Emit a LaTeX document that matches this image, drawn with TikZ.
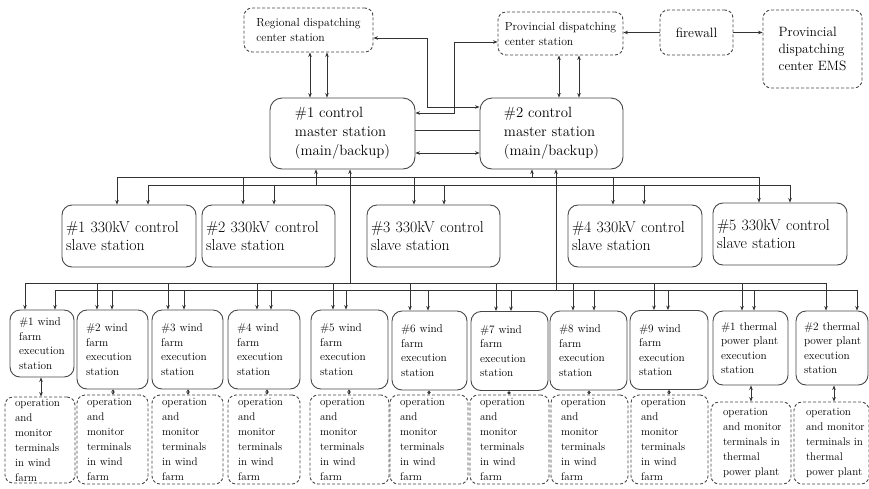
\documentclass[tikz,border=0pt]{standalone}
\usetikzlibrary{arrows.meta,calc}
\begin{document}
\hyphenpenalty=10000
\exhyphenpenalty=10000
\begin{tikzpicture}[x=1pt,y=-1pt,
  line/.style={draw=black!80, line width=0.85pt},
  tip/.style={line, -{Stealth[length=4.5pt,width=3.6pt]}},
  tips/.style={line, {Stealth[length=4.5pt,width=3.6pt]}-{Stealth[length=4.5pt,width=3.6pt]}},
  stub/.style={line, {Stealth[length=2.6pt,width=3.4pt]}-{Stealth[length=2.6pt,width=3.4pt]}},
  solidbox/.style={draw=black!72, line width=0.9pt, rounded corners=10pt, align=left, inner ysep=0pt},
  dashbox/.style={solidbox, dash pattern=on 3pt off 2pt, rounded corners=8pt},
  smalltop/.style={font=\fontsize{11.7}{15}\selectfont},
  bigtop/.style={font=\fontsize{13.5}{16.7}\selectfont},
  masterbox/.style={solidbox, rounded corners=12pt, font=\fontsize{14.8}{19}\selectfont},
  slavebox/.style={solidbox, inner xsep=4pt, minimum height=62pt, font=\fontsize{15.8}{18.5}\selectfont},
  exbox/.style={solidbox, inner xsep=9pt, font=\fontsize{11.3}{14.5}\selectfont},
  termbox/.style={dashbox, inner xsep=10pt, font=\fontsize{11.1}{15}\selectfont},
]
\useasboundingbox (0,0) rectangle (869,488);

% dispatching level
\node[dashbox, smalltop, minimum width=129pt, minimum height=44pt] (reg) at (308.5,30) {Regional dispatching\\center station};
\node[dashbox, smalltop, minimum width=125pt, minimum height=43pt] (prov) at (560.5,33.5) {Provincial dispatching\\center station};
\node[dashbox, bigtop, minimum width=73pt, minimum height=45pt] (fw) at (696.5,32.5) {firewall};
\node[dashbox, bigtop, minimum width=99pt, minimum height=78pt] (ems) at (812.5,49) {Provincial\\dispatching\\center EMS};

% master stations
\node[masterbox, minimum width=145pt, minimum height=71pt] (m1) at (342.5,133.5) {\#1 control\\master station\\(main/backup)};
\node[masterbox, minimum width=143pt, minimum height=71pt] (m2) at (551.5,133.5) {\#2 control\\master station\\(main/backup)};

% 330kV slave stations
\foreach \n/\cx/\cy/\w in {1/129/236/126, 2/268.5/236/125, 3/433.5/236/125, 4/635/236/126, 5/780/234/126}
  \node[slavebox, text width=\w pt] (s\n) at (\cx,\cy) {\#\n{}~330kV~control\\slave~station};

% wind farm execution stations
\foreach \n/\cx/\cy/\h/\w in {1/42/343.5/67/46, 2/112.5/349.5/79/53, 3/187.5/349.5/79/53, 4/264/349.5/79/54,
    5/349.5/349.5/79/59, 6/429.5/350.5/79/57, 7/509.5/351/79/59, 8/588.5/350.5/79/59, 9/669/350/79/60}
  \node[exbox, minimum height=\h pt, text width=\w pt] (w\n) at (\cx,\cy) {\#\n{}~wind\\farm\\execution\\station};
\node[exbox, inner xsep=8pt, minimum height=74pt, text width=59pt] (t1) at (750.5,348) {\#1~thermal\\power~plant\\execution\\station};
\node[exbox, inner xsep=8pt, minimum height=74pt, text width=56pt] (t2) at (832,348) {\#2~thermal\\power~plant\\execution\\station};

% operation and monitor terminals
\node[termbox, minimum height=86pt, text width=50pt] (o1) at (40,440) {operation\\and\\monitor\\terminals\\in~wind\\farm};
\foreach \n/\cx/\w in {2/112.5/51, 3/187.5/51, 4/264/52, 5/349.5/59, 6/429/58, 7/509.5/59, 8/589.5/57, 9/669.5/57}
  \node[termbox, minimum height=89pt, text width=\w pt] (o\n) at (\cx,439.5) {operation\\and\\monitor\\terminals\\in~wind\\farm};
\node[termbox, inner xsep=12pt, minimum height=82pt, text width=56pt] (p1) at (751,443) {operation\\and~monitor\\terminals~in\\thermal\\power~plant};
\node[termbox, inner xsep=12pt, minimum height=82pt, text width=51pt] (p2) at (831.5,443) {operation\\and~monitor\\terminals~in\\thermal\\power~plant};

% links between dispatching centres and master stations
\draw[tips] (310,0 |- reg.south) -- (310,0 |- m1.north);
\draw[tips] (327,0 |- reg.south) -- (327,0 |- m1.north);
\draw[tips] (559,0 |- prov.south) -- (559,0 |- m2.north);
\draw[tips] (579,0 |- prov.south) -- (579,0 |- m2.north);
\coordinate (k1) at (427,107);
\draw[tips] (reg.east |- 0,38) -| (k1) -- (k1 -| m2.west);
\coordinate (k2) at (454,113);
\draw[tips] (k2 -| m1.east) -- (k2) |- (prov.west |- 0,42);
\draw[line] (m1.east |- 0,130) -- (m2.west |- 0,130);
\draw[tips] (m1.east |- 0,153) -- (m2.west |- 0,153);
\draw[tip] (fw.west) -- (fw.west -| prov.east);
\draw[tip] (fw.east) -- (fw.east -| ems.west);

% slave station buses
\coordinate (saL) at (117,177); \coordinate (saR) at (759,177);
\coordinate (sbL) at (148,185); \coordinate (sbR) at (790,185);
\draw[line] (saL) -- (saR);
\draw[line] (sbL) -- (sbR);
\coordinate (f1) at (316,185); \draw[tip] (f1) -- (f1 |- m1.south);
\coordinate (f2) at (532,177); \draw[tip] (f2) -- (f2 |- m2.south);
\foreach \n/\xa/\xb in {1/117/148, 2/243/274, 3/414/444, 4/613/644, 5/759/790} {
  \draw[tip] (\xa,0 |- saL) -- (\xa,0 |- s\n.north);
  \draw[tip] (\xb,0 |- sbL) -- (\xb,0 |- s\n.north);
}

% execution station buses
\coordinate (waL) at (25,283); \coordinate (waR) at (826,283);
\coordinate (wbL) at (55,290); \coordinate (wbR) at (857,290);
\draw[line] (waL) -- (waR);
\draw[line] (wbL) -- (wbR);
\coordinate (f3) at (350,283); \draw[tip] (f3) -- (f3 |- m1.south);
\coordinate (f4) at (556,290); \draw[tip] (f4) -- (f4 |- m2.south);
\foreach \b/\xa/\xb in {w1/25/55, w2/97/112, w3/168/184, w4/257/271, w5/333/346, w6/410/428,
    w7/496/511, w8/573/594, w9/654/668, t1/742/754, t2/826/857} {
  \draw[tip] (\xa,0 |- waL) -- (\xa,0 |- \b.north);
  \draw[tip] (\xb,0 |- wbL) -- (\xb,0 |- \b.north);
}

% execution stations to their terminals
\draw[tips] (41,0 |- w1.south) -- (41,0 |- o1.north);
\foreach \n/\x in {2/113, 3/188, 4/267, 5/349, 6/429, 7/509, 8/589, 9/669}
  \draw[stub] (\x,0 |- w\n.south) -- (\x,0 |- o\n.north);
\draw[tips] (751,0 |- t1.south) -- (751,0 |- p1.north);
\draw[tips] (834,0 |- t2.south) -- (834,0 |- p2.north);
\end{tikzpicture}
\end{document}
